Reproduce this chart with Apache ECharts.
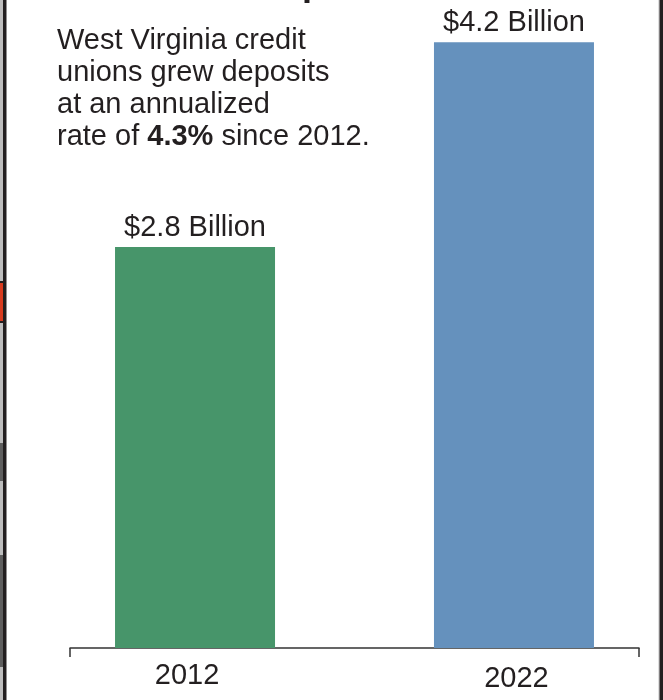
<!DOCTYPE html>
<html>
<head>
<meta charset="utf-8">
<script src="https://cdn.jsdelivr.net/npm/echarts@6/dist/echarts.min.js"></script>
<style>
html, body { margin: 0; padding: 0; background: #fff; }
#main { width: 663px; height: 700px; }
</style>
</head>
<body>
<div id="main"></div>
<script>
// data
var years = ['2012', '2022'];
var deposits = [2.78, 4.2];   // billions
var barColors = ['#47956a', '#6591bd'];
var note = 'West Virginia credit\nunions grew deposits\nat an annualized\nrate of {b|4.3%} since 2012.';

var FONT = '"Liberation Sans", Arial, Helvetica, sans-serif';
var INK = '#231f20';

var xMin = -0.392, xMax = 1.392;

var myChart = echarts.init(document.getElementById('main'));

var option = {
	animation: false,
	backgroundColor: '#fff',
	grid: { left: 70, right: 24, top: 13.5, bottom: 52 },
	xAxis: {
		type: 'value',
		min: xMin,
		max: xMax,
		splitLine: { show: false },
		axisLine: { show: true, lineStyle: { color: '#333', width: 1.5 } },
		axisTick: {
			show: true,
			customValues: [xMin, xMax],
			length: 9,
			lineStyle: { color: '#333', width: 1.5 }
		},
		axisLabel: {
			customValues: [0, 1],
			margin: 13,
			formatter: function (v) {
				var i = Math.round(v);
				return '{y' + i + '|' + years[i] + '}';
			},
			rich: {
				y0: { fontFamily: FONT, fontSize: 29, color: INK, padding: [0, 16, 0, 0] },
				y1: { fontFamily: FONT, fontSize: 29, color: INK, padding: [3, 0, 0, 5] }
			}
		}
	},
	yAxis: {
		type: 'value',
		min: 0,
		max: 4.4,
		show: false
	},
	series: [{
		type: 'bar',
		barWidth: 160,
		data: deposits.map(function (d, i) {
			return { value: [i, d], itemStyle: { color: barColors[i] } };
		}),
		label: {
			show: true,
			position: 'top',
			distance: 5,
			fontFamily: FONT,
			fontSize: 29,
			color: INK,
			formatter: function (p) {
				return '$' + p.value[1].toFixed(1) + ' Billion';
			}
		}
	}],
	graphic: [
		// annotation
		{
			type: 'text',
			left: 57,
			top: 25,
			style: {
				text: note,
				fontFamily: FONT,
				fontSize: 29,
				lineHeight: 32,
				fill: INK,
				rich: {
					b: { fontFamily: FONT, fontSize: 29, fontWeight: 'bold', lineHeight: 32, fill: INK }
				}
			}
		},
		// cropped title (only the descender is visible)
		{
			type: 'text',
			x: 256,
			y: 3,
			style: {
				text: 'Deposits',
				fontFamily: FONT,
				fontSize: 36,
				fontWeight: 'bold',
				fill: INK,
				verticalAlign: 'bottom'
			}
		},
		// frame edges
		{ type: 'rect', shape: { x: 0, y: 0, width: 3, height: 700 }, style: { fill: '#bdbdbd' } },
		{ type: 'rect', shape: { x: 0, y: 281, width: 3, height: 42 }, style: { fill: INK } },
		{ type: 'rect', shape: { x: 0, y: 283, width: 3, height: 38 }, style: { fill: '#d83b1f' } },
		{ type: 'rect', shape: { x: 0, y: 443, width: 3, height: 38 }, style: { fill: '#5e5e5e' } },
		{ type: 'rect', shape: { x: 0, y: 555, width: 3, height: 112 }, style: { fill: '#5e5e5e' } },
		{ type: 'rect', shape: { x: 3, y: 0, width: 3.5, height: 700 }, style: { fill: INK } },
		{ type: 'rect', shape: { x: 658.5, y: 0, width: 1, height: 700 }, style: { fill: '#bdbdbd' } },
		{ type: 'rect', shape: { x: 659.5, y: 0, width: 3.5, height: 700 }, style: { fill: INK } }
	]
};

myChart.setOption(option);
</script>
</body>
</html>
